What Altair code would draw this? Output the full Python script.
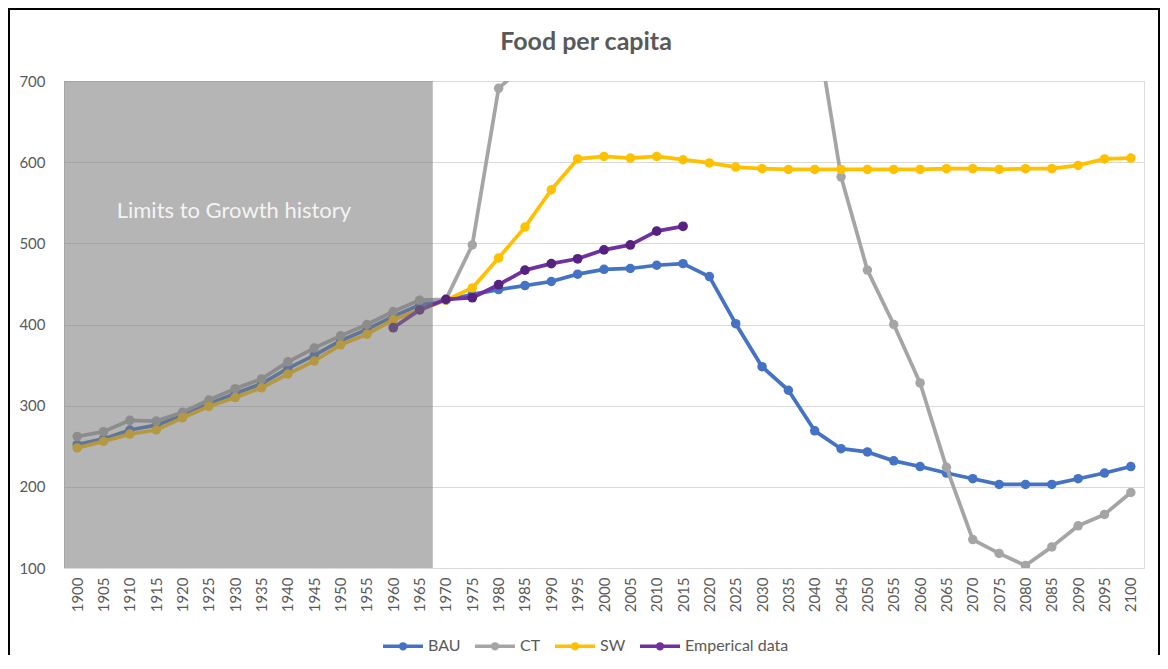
import altair as alt
import pandas as pd

years = [1900, 1905, 1910, 1915, 1920, 1925, 1930, 1935, 1940, 1945,
         1950, 1955, 1960, 1965, 1970, 1975, 1980, 1985, 1990, 1995,
         2000, 2005, 2010, 2015, 2020, 2025, 2030, 2035, 2040, 2045,
         2050, 2055, 2060, 2065, 2070, 2075, 2080, 2085, 2090, 2095, 2100]

bau = [252, 259, 270, 276, 288, 302, 315, 327, 346, 362,
       380, 394, 410, 424, 430, 437, 443, 448, 453, 462,
       468, 469, 473, 475, 459, 401, 348, 319, 269, 247,
       243, 232, 225, 217, 210, 203, 203, 203, 210, 217, 225]

ct = [262, 268, 282, 281, 292, 307, 321, 333, 354, 371,
      386, 400, 416, 430, 431, 498, 691, 720, 780, 830,
      870, 900, 910, 905, 890, 860, 830, 800, 781, 582,
      467, 400, 328, 224, 135, 118, 103, 126, 152, 166, 193]

sw = [248, 256, 265, 270, 285, 299, 310, 322, 339, 355,
      375, 388, 406, 418, 430, 445, 482, 520, 566, 604,
      607, 605, 607, 603, 599, 594, 592, 591, 591, 591,
      591, 591, 591, 592, 592, 591, 592, 592, 596, 604, 605]

emp_years = [1960, 1965, 1970, 1975, 1980, 1985, 1990, 1995, 2000, 2005, 2010, 2015]
emp = [396, 418, 431, 433, 449, 467, 475, 481, 492, 498, 515, 521]

names = ["BAU", "CT", "SW", "Emperical data"]
colors = ["#4472C4", "#A5A5A5", "#FFC000", "#7030A0"]
emp_marker = "#55237F"

y_ticks = [100, 200, 300, 400, 500, 600, 700]
history_span = [1897.5, 1967.5]
history_label = "Limits to Growth history"
title_text = "Food per capita"

rows = []
for yr, v in zip(years, bau):
    rows.append({"year": yr, "value": v, "series": "BAU"})
for yr, v in zip(years, ct):
    rows.append({"year": yr, "value": v, "series": "CT"})
for yr, v in zip(years, sw):
    rows.append({"year": yr, "value": v, "series": "SW"})
for yr, v in zip(emp_years, emp):
    rows.append({"year": yr, "value": v, "series": "Emperical data"})
df = pd.DataFrame(rows)

FONT = "Lato"
GREY_TXT = "#595959"

xscale = alt.Scale(domain=[1897.5, 2102.5], nice=False, zero=False)
yscale = alt.Scale(domain=[100, 700], nice=False, zero=False)

x_axis = alt.Axis(values=years, labelAngle=-90, format="d", title=None,
                  grid=False, domain=False, ticks=False, labelPadding=9,
                  labelFontSize=15, labelColor=GREY_TXT, labelFont=FONT,
                  labelFlush=False, labelOverlap=False, labelBound=False)
y_axis = alt.Axis(values=y_ticks, title=None, domain=False, ticks=False,
                  gridColor="#D9D9D9", gridWidth=1, labelPadding=19,
                  labelFontSize=15, labelColor=GREY_TXT, labelFont=FONT,
                  labelOverlap=False)

x_enc = alt.X("year:Q", scale=xscale, axis=x_axis)
y_enc = alt.Y("value:Q", scale=yscale, axis=y_axis)

# line segment plus concentric rings (so a stroked-only symbol still reads as a dot)
legend_path = ("M-1,0H1"
               "M-0.12,0A0.12,0.12,0,1,1,0.12,0A0.12,0.12,0,1,1,-0.12,0Z"
               "M-0.07,0A0.07,0.07,0,1,1,0.07,0A0.07,0.07,0,1,1,-0.07,0Z"
               "M-0.025,0A0.025,0.025,0,1,1,0.025,0A0.025,0.025,0,1,1,-0.025,0Z")

color_enc = alt.Color(
    "series:N",
    scale=alt.Scale(domain=names, range=colors),
    sort=names,
    legend=alt.Legend(
        orient="none", legendX=317, legendY=543, direction="horizontal",
        title=None, symbolType=legend_path, symbolSize=1600,
        symbolStrokeWidth=3.5, labelFontSize=16, labelColor=GREY_TXT,
        labelFont=FONT, labelOffset=3, columnPadding=7,
    ),
)

layers = []
for name in names:
    base = alt.Chart(df).transform_filter(alt.datum.series == name)
    line = base.mark_line(strokeWidth=3.75, clip=True, strokeJoin="round",
                          strokeCap="round").encode(x=x_enc, y=y_enc, color=color_enc)
    layers.append(line)
    if name == "Emperical data":
        pts = base.mark_circle(size=95, opacity=1, clip=True, color=emp_marker).encode(
            x=x_enc, y=y_enc)
    else:
        pts = base.mark_circle(size=90, opacity=1, clip=True).encode(
            x=x_enc, y=y_enc, color=color_enc)
    layers.append(pts)

shade_df = pd.DataFrame({"x0": [history_span[0]], "x1": [history_span[1]],
                         "y0": [y_ticks[0]], "y1": [y_ticks[-1]]})
shade = alt.Chart(shade_df).mark_rect(color="#787878", opacity=0.55).encode(
    x=alt.X("x0:Q", scale=xscale, axis=x_axis), x2="x1:Q",
    y=alt.Y("y0:Q", scale=yscale, axis=y_axis), y2="y1:Q")

label_df = pd.DataFrame({"x": [1907.5], "y": [540], "t": [history_label]})
label = alt.Chart(label_df).mark_text(align="left", baseline="middle", fontSize=22,
                                      color="#F4F4F4", font=FONT).encode(
    x=alt.X("x:Q", scale=xscale, axis=x_axis),
    y=alt.Y("y:Q", scale=yscale, axis=y_axis), text="t:N")

title = alt.Chart(pd.DataFrame({"t": [title_text]})).mark_text(
    align="center", baseline="middle", fontSize=25, fontWeight="bold",
    color=GREY_TXT, font=FONT).encode(
    x=alt.value(522), y=alt.value(-39), text="t:N")

border = alt.Chart(pd.DataFrame({"a": [0]})).mark_rect(
    fill="transparent", stroke="black", strokeWidth=2).encode(
    x=alt.value(-55), x2=alt.value(1095), y=alt.value(-72), y2=alt.value(620))

chart = alt.layer(*layers, shade, label, title, border).properties(
    width=1080, height=487,
    padding={"left": 56, "top": 73, "right": 16, "bottom": 87},
    autosize=alt.AutoSizeParams(type="none"),
).configure_view(strokeWidth=0).configure(background="white")

chart.save("out.html", embed_options={"renderer": "svg", "actions": False})
